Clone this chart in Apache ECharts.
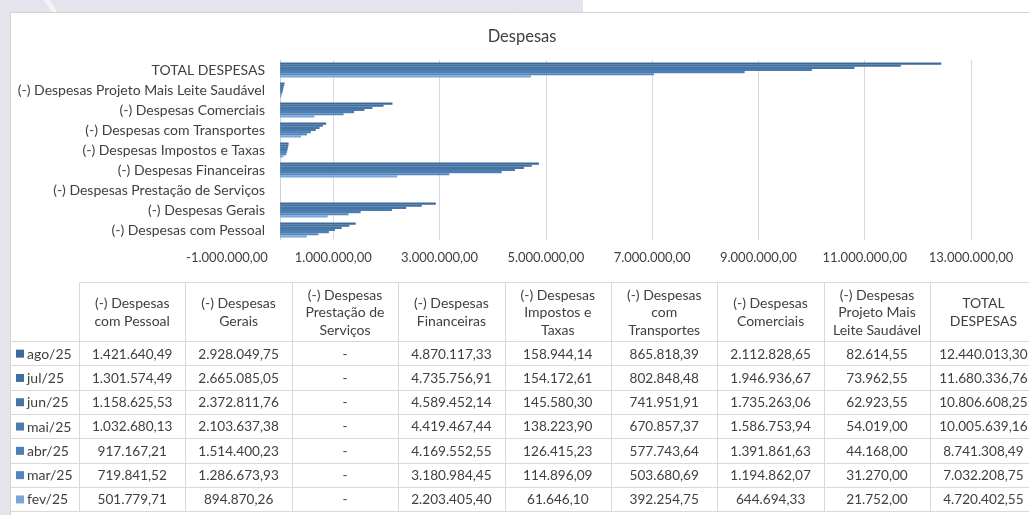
<!DOCTYPE html>
<html><head><meta charset="utf-8">
<script src="https://cdn.jsdelivr.net/npm/echarts@6/dist/echarts.min.js"></script>
<style>html,body{margin:0;padding:0;background:#fff}#c{width:1029px;height:515px}</style>
</head><body><div id="c"></div>
<script>
// ---- data ----
const categories = [
  '(-) Despesas com Pessoal',
  '(-) Despesas Gerais',
  '(-) Despesas Prestação de Serviços',
  '(-) Despesas Financeiras',
  '(-) Despesas Impostos e Taxas',
  '(-) Despesas com Transportes',
  '(-) Despesas Comerciais',
  '(-) Despesas Projeto Mais Leite Saudável',
  'TOTAL DESPESAS'
];
const headerLabels = [
  '(-) Despesas\ncom Pessoal',
  '(-) Despesas\nGerais',
  '(-) Despesas\nPrestação de\nServiços',
  '(-) Despesas\nFinanceiras',
  '(-) Despesas\nImpostos e\nTaxas',
  '(-) Despesas\ncom\nTransportes',
  '(-) Despesas\nComerciais',
  '(-) Despesas\nProjeto Mais\nLeite Saudável',
  'TOTAL\nDESPESAS'
];
const months = ['ago/25', 'jul/25', 'jun/25', 'mai/25', 'abr/25', 'mar/25', 'fev/25'];
const ago25 = [1421640.49, 2928049.75, null, 4870117.33, 158944.14, 865818.39, 2112828.65, 82614.55, 12440013.30];
const jul25 = [1301574.49, 2665085.05, null, 4735756.91, 154172.61, 802848.48, 1946936.67, 73962.55, 11680336.76];
const jun25 = [1158625.53, 2372811.76, null, 4589452.14, 145580.30, 741951.91, 1735263.06, 62923.55, 10806608.25];
const mai25 = [1032680.13, 2103637.38, null, 4419467.44, 138223.90, 670857.37, 1586753.94, 54019.00, 10005639.16];
const abr25 = [917167.21, 1514400.23, null, 4169552.55, 126415.23, 577743.64, 1391861.63, 44168.00, 8741308.49];
const mar25 = [719841.52, 1286673.93, null, 3180984.45, 114896.09, 503680.69, 1194862.07, 31270.00, 7032208.75];
const fev25 = [501779.71, 894870.26, null, 2203405.40, 61646.10, 392254.75, 644694.33, 21752.00, 4720402.55];
const seriesValues = [ago25, jul25, jun25, mai25, abr25, mar25, fev25];
const axisMin = -1000000, axisMax = 13000000, axisStep = 2000000;

// ---- styles ----
const colors = ['#3d6a9a', '#406f9f', '#4574a6', '#4a7bad', '#4d7fb3', '#5285bb', '#78a6d8'];
const FONT = 'Lato, "Open Sans", sans-serif';
const TXT = '#404040';

function fmt(v) {
  if (v === null || v === undefined) return '-';
  const neg = v < 0;
  const s = Math.abs(v).toFixed(2);
  let [i, d] = s.split('.');
  i = i.replace(/\B(?=(\d{3})+(?!\d))/g, '.');
  return (neg ? '-' : '') + i + ',' + d;
}

const chart = echarts.init(document.getElementById('c'), null, {renderer: 'canvas'});

// ---- table graphic ----
const tTop = 282, hBottom = 341, rowH = 24.3, col0 = 79, colW = 106.4, frameL = 10, W = 1029;
const LINE = '#d9d9d9';
const g = [];
g.push({type: 'rect', shape: {x: 0, y: 0, width: 583, height: 12}, style: {fill: '#e4e4ed'}, z: -10});
g.push({type: 'rect', shape: {x: 0, y: 0, width: 10, height: 515}, style: {fill: '#e4e4ed'}, z: -10});
g.push({type: 'polygon', shape: {points: [[44, 0], [50, 0], [57, 12], [52, 12]]}, style: {fill: '#f4f4f8'}, z: -9});
g.push({type: 'line', shape: {x1: frameL, y1: 12.5, x2: W, y2: 12.5}, style: {stroke: '#d4d4d4', lineWidth: 1}});
g.push({type: 'line', shape: {x1: frameL + 0.5, y1: 12, x2: frameL + 0.5, y2: 515}, style: {stroke: '#d4d4d4', lineWidth: 1}});
g.push({type: 'line', shape: {x1: col0, y1: tTop + 0.5, x2: W, y2: tTop + 0.5}, style: {stroke: LINE, lineWidth: 1}});
for (let k = 0; k <= months.length; k++) {
  const y = Math.round(hBottom + k * rowH) + 0.5;
  g.push({type: 'line', shape: {x1: frameL, y1: y, x2: W, y2: y}, style: {stroke: LINE, lineWidth: 1}});
}
const tBottom = hBottom + months.length * rowH;
for (let k = 0; k <= categories.length; k++) {
  const x = Math.round(col0 + k * colW) + 0.5;
  g.push({type: 'line', shape: {x1: x, y1: tTop, x2: x, y2: tBottom}, style: {stroke: LINE, lineWidth: 1}});
}
headerLabels.forEach((h, k) => {
  g.push({type: 'text', x: col0 + (k + 0.5) * colW, y: (tTop + hBottom) / 2 + 1,
    style: {text: h, font: '14px ' + FONT, fill: TXT, align: 'center', verticalAlign: 'middle', lineHeight: 17.5}});
});
months.forEach((m, r) => {
  const cy = hBottom + (r + 0.5) * rowH + 1;
  g.push({type: 'rect', shape: {x: 16, y: cy - 4.5, width: 8, height: 8}, style: {fill: colors[r]}});
  g.push({type: 'text', x: 27, y: cy, style: {text: m, font: '14px ' + FONT, fill: TXT, align: 'left', verticalAlign: 'middle'}});
  seriesValues[r].forEach((v, k) => {
    g.push({type: 'text', x: col0 + (k + 0.5) * colW, y: cy,
      style: {text: fmt(v), font: '13.6px ' + FONT, fill: TXT, align: 'center', verticalAlign: 'middle'}});
  });
});

const option = {
  backgroundColor: '#ffffff',
  animation: false,
  title: {text: 'Despesas', left: 517, top: 23, textAlign: 'center',
    textStyle: {fontFamily: FONT, fontSize: 16.5, fontWeight: 'normal', color: TXT}},
  grid: {left: 227, right: 1029 - 971, top: 60, height: 180, containLabel: false, outerBoundsMode: 'none'},
  xAxis: {
    type: 'value', min: axisMin, max: axisMax, interval: axisStep,
    axisLine: {show: false}, axisTick: {show: false},
    axisLabel: {formatter: fmt, color: TXT, fontFamily: FONT, fontSize: 13, margin: 11, showMinLabel: true, showMaxLabel: true, hideOverlap: false},
    splitLine: {show: true, showMinLine: false, lineStyle: {color: '#d9d9d9', width: 1}}
  },
  yAxis: {
    type: 'category', data: categories,
    axisLine: {show: true, onZero: true, lineStyle: {color: '#d0d0d0', width: 1}},
    axisTick: {show: false},
    axisLabel: {color: TXT, fontFamily: FONT, fontSize: 14, margin: -38, interval: 0}
  },
  series: months.map((m, i) => ({
    name: m, type: 'bar', data: seriesValues[i],
    itemStyle: {color: colors[i]},
    barGap: '0%', barCategoryGap: '25%'
  })),
  graphic: {elements: g}
};
chart.setOption(option);
</script>
</body></html>
